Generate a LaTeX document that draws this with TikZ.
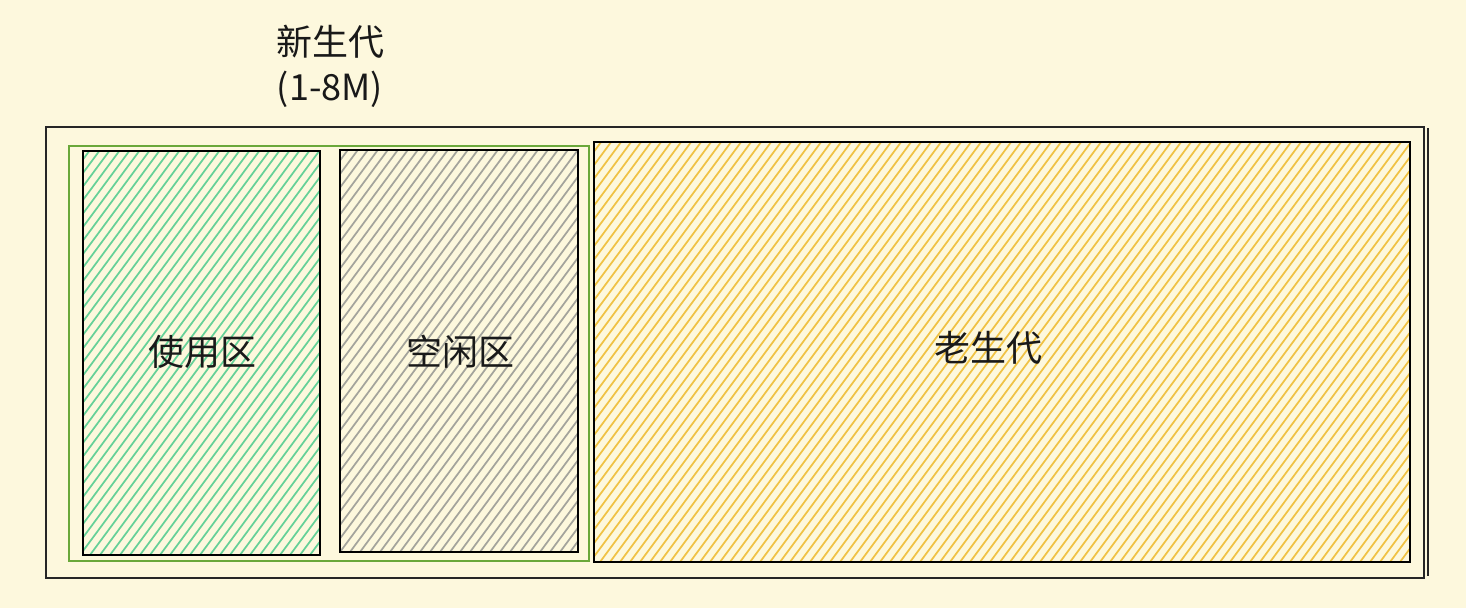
\documentclass[tikz,border=0pt]{standalone}
\usepackage{fontspec}
\setmainfont{Noto Sans CJK SC}
\usetikzlibrary{positioning}
\definecolor{paper}{HTML}{FDF8DD}
\definecolor{usedgreen}{HTML}{66D198}
\definecolor{freegray}{HTML}{A4A49C}
\definecolor{oldyellow}{HTML}{F0C244}
\definecolor{younggreen}{HTML}{6AA83A}
\tikzset{
  frame/.style={draw=black!85,line width=1.5pt},
  area/.style={draw=black,line width=2pt},
  tag/.style={font=\fontsize{27}{32}\selectfont,text=black!90},
}
% hatch a box: #1 colour, #2 x1, #3 y1, #4 x2, #5 y2 (pixels)
\newcommand{\hatchbox}[5]{%
  \begin{scope}
    \clip (#2,#3) rectangle (#4,#5);
    \pgfmathsetmacro{\rise}{(#5-#3)/1.35}
    \foreach \s in {-300,-290,...,#4}
      \draw[#1,line width=1.3pt] (\s,#5) -- ++(\rise,-#5+#3);
  \end{scope}}
\begin{document}
\begin{tikzpicture}[x=0.75pt,y=-0.75pt]
  \fill[paper] (0,0) rectangle (1466,608);
  \useasboundingbox (0,0) rectangle (1466,608);
  %%
  \node (title) at (330,42) [tag] {新生代};
  \node (size) [tag,below=2pt of title] {(1-8M)};
  %% outer frame
  \draw[frame] (46,127) rectangle (1424,578);
  \draw[frame] (1428,128) -- (1428,576);
  %% young generation
  \draw[younggreen,line width=2.2pt] (69,146) rectangle (589,561);
  \hatchbox{usedgreen}{83}{151}{320}{555}
  \draw[area] (83,151) rectangle (320,555);
  \hatchbox{freegray}{340}{150}{578}{552}
  \draw[area] (340,150) rectangle (578,552);
  %% old generation
  \hatchbox{oldyellow}{594}{142}{1410}{562}
  \draw[area] (594,142) rectangle (1410,562);
  %%
  \node (used) at (202,352) [tag] {使用区};
  \node (free) at (460,352) [tag] {空闲区};
  \node (old) at (988,348) [tag] {老生代};
  %
\end{tikzpicture}
\end{document}
